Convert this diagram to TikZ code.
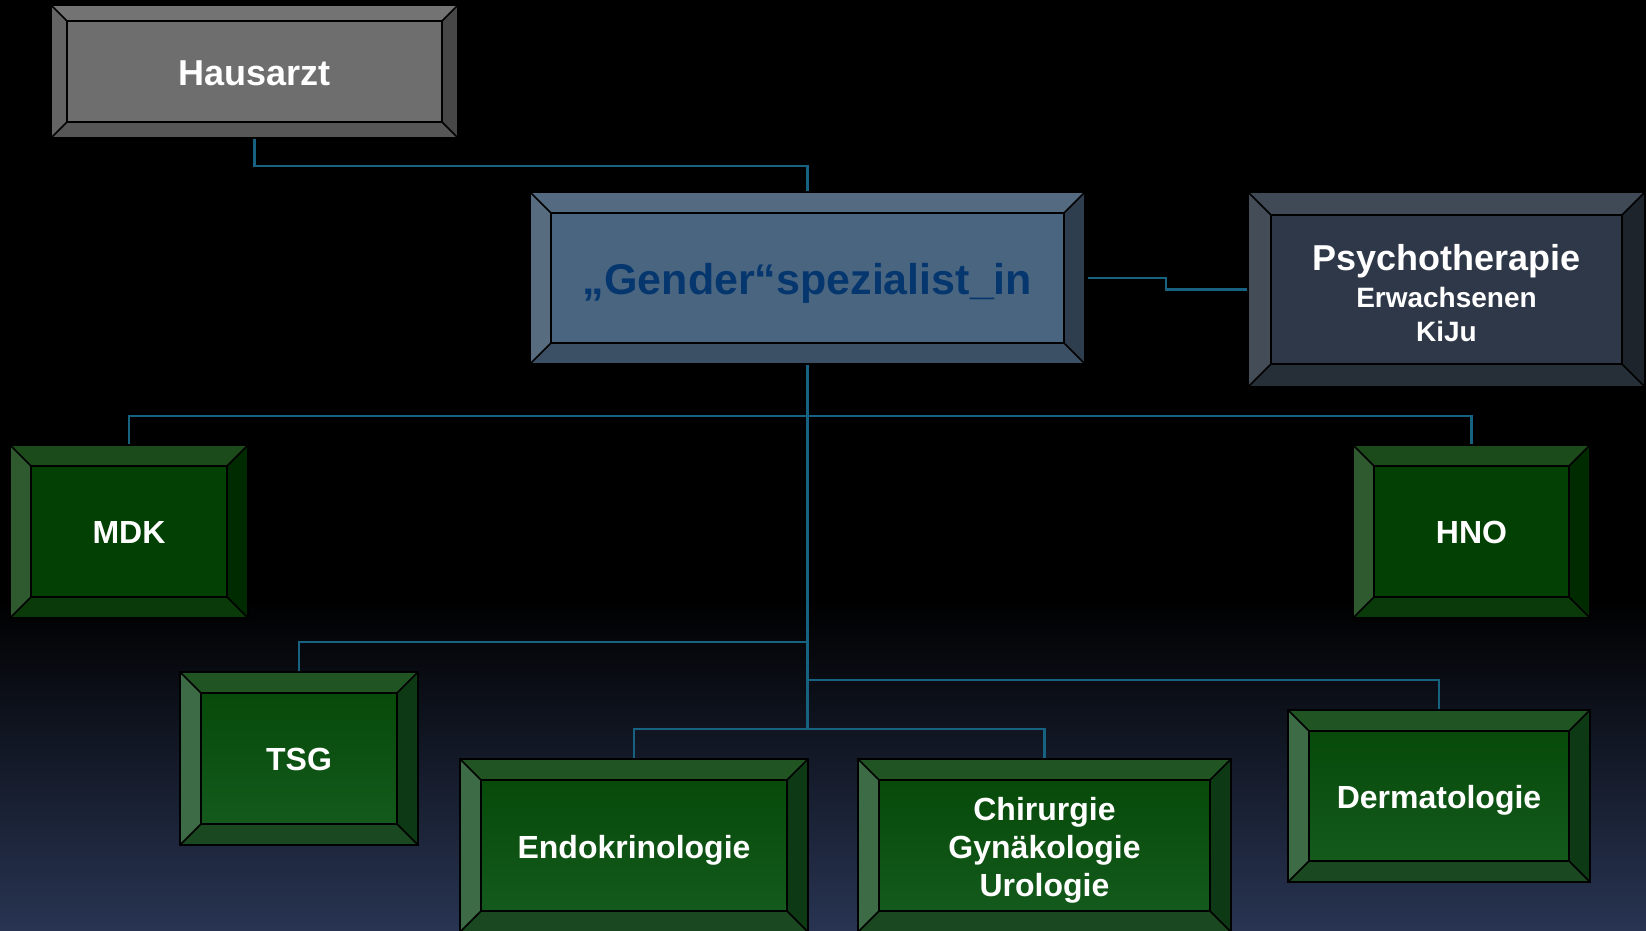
\documentclass[tikz,border=0pt]{standalone}
\usepackage{fontspec}
\setmainfont{Liberation Sans}
\usetikzlibrary{calc}
\definecolor{conncol}{RGB}{22,98,128}
\definecolor{bgbot}{RGB}{40,52,82}
% grey
\definecolor{hFace}{RGB}{110,110,110}\definecolor{hTop}{RGB}{115,115,115}
\definecolor{hLeft}{RGB}{100,100,100}\definecolor{hRight}{RGB}{71,71,71}\definecolor{hBot}{RGB}{87,87,87}
% gender
\definecolor{gFace}{RGB}{74,101,128}\definecolor{gTop}{RGB}{83,106,128}
\definecolor{gLeft}{RGB}{88,108,128}\definecolor{gRight}{RGB}{47,62,78}\definecolor{gBot}{RGB}{60,80,101}
\definecolor{gText}{RGB}{5,55,110}
% psych
\definecolor{pFace}{RGB}{46,56,72}\definecolor{pTop}{RGB}{63,74,86}
\definecolor{pLeft}{RGB}{67,76,87}\definecolor{pRight}{RGB}{30,36,44}\definecolor{pBot}{RGB}{38,46,56}
% green upper
\definecolor{aFace}{RGB}{3,64,3}\definecolor{aTop}{RGB}{27,74,27}
\definecolor{aLeft}{RGB}{47,90,47}\definecolor{aRight}{RGB}{0,42,0}\definecolor{aBot}{RGB}{10,58,10}
% green lower
\definecolor{bFaceT}{RGB}{7,74,10}\definecolor{bFaceB}{RGB}{19,90,28}\definecolor{bTop}{RGB}{32,85,35}
\definecolor{bLeft}{RGB}{60,107,69}\definecolor{bRight}{RGB}{13,58,21}\definecolor{bBot}{RGB}{26,72,32}
\newcommand\bevelpic[6]{%
  \coordinate (o1) at (path picture bounding box.north west);
  \coordinate (o2) at (path picture bounding box.north east);
  \coordinate (o3) at (path picture bounding box.south east);
  \coordinate (o4) at (path picture bounding box.south west);
  \coordinate (i1) at ($(o1)+(#1,#1)$);
  \coordinate (i2) at ($(o2)+(-#1,#1)$);
  \coordinate (i3) at ($(o3)+(-#1,-#1)$);
  \coordinate (i4) at ($(o4)+(#1,-#1)$);
  \fill[#3] (o1)--(o2)--(i2)--(i1)--cycle;
  \fill[#4] (o1)--(i1)--(i4)--(o4)--cycle;
  \fill[#5] (o2)--(o3)--(i3)--(i2)--cycle;
  \fill[#6] (o4)--(i4)--(i3)--(o3)--cycle;
  \fill[#2] (i1) rectangle (i3);
  \draw[black,line width=1.6pt] (i1) rectangle (i3) (o1)--(i1) (o2)--(i2) (o3)--(i3) (o4)--(i4);
}
\newcommand\dn[2]{\raisebox{-#1pt}[\height][\depth]{#2}}
\newcommand\dnt[2]{\raisebox{-#1pt}[\height][\depth]{\begin{tabular}{@{}c@{}}#2\end{tabular}}}
\tikzset{
  box/.style 2 args={rectangle,inner sep=0pt,minimum width=#1,minimum height=#2,align=center,draw=black,line width=1.6pt},
  haus/.style={path picture={\bevelpic{16}{fill=hFace}{hTop}{hLeft}{hRight}{hBot}},text=white,font=\bfseries\fontsize{36}{40}\selectfont},
  gend/.style={path picture={\bevelpic{21}{fill=gFace}{gTop}{gLeft}{gRight}{gBot}},text=gText,font=\bfseries\fontsize{43}{47}\selectfont},
  psy/.style={path picture={\bevelpic{23}{fill=pFace}{pTop}{pLeft}{pRight}{pBot}},text=white,font=\bfseries\fontsize{28}{34}\selectfont},
  grA/.style={path picture={\bevelpic{21}{fill=aFace}{aTop}{aLeft}{aRight}{aBot}},text=white,font=\bfseries\fontsize{32}{38}\selectfont},
  grB/.style={path picture={\bevelpic{21}{top color=bFaceT,bottom color=bFaceB}{bTop}{bLeft}{bRight}{bBot}},text=white,font=\bfseries\fontsize{32}{38}\selectfont},
  conn/.style={draw=conncol,line width=2.2pt}
}
\begin{document}
\begin{tikzpicture}[x=1pt,y=-1pt]
\useasboundingbox (0,0) rectangle (1646,931);
\fill[black] (0,0) rectangle (1646,600);
\shade[top color=black,bottom color=bgbot] (0,599) rectangle (1646,931);
\begin{scope}
\clip (0,0) rectangle (1646,931);
\coordinate (hub) at (807.5,730);
\coordinate (jt) at (807.5,642);
\coordinate (jd) at (807.5,680);
% nodes
\node[box={407pt}{133pt},haus] (haus) at (254.5,71.5) {\dn{2}{Hausarzt}};
\node[box={555pt}{172pt},gend] (gender) at (807.5,278) {\dn{5}{„Gender“spezialist\_in}};
\node[box={397pt}{195pt},psy] (psych) at (1446.5,289.5) {\dnt{9}{{\fontsize{36}{40}\selectfont Psychotherapie}\\[3pt]Erwachsenen\\KiJu}};
\node[box={238pt}{173pt},grA] (mdk) at (129,531.5) {\dn{1}{MDK}};
\node[box={237pt}{173pt},grA] (hno) at (1471.5,531.5) {\dn{1}{HNO}};
\node[box={238pt}{173pt},grB] (tsg) at (299,758.5) {\dn{1}{TSG}};
\node[box={348pt}{173pt},grB] (endo) at (634,845.5) {\dn{5}{Endokrinologie}};
\node[box={373pt}{173pt},grB] (chir) at (1044.5,845.5) {\dnt{5}{Chirurgie\\Gynäkologie\\Urologie}};
\node[box={302pt}{172pt},grB] (derm) at (1439,796) {\dn{4}{Dermatologie}};
% connectors
\draw[conn] (haus.south) -- ++(0,27) -| (gender.north);
\draw[conn] ([xshift=2pt]gender.east) -- (1166,278) |- (psych.west);
\draw[conn] (gender.south) -- (hub);
\draw[conn] (mdk.north) -- ++(0,-28) -| (hno.north);
\draw[conn] (tsg.north) |- (jt);
\draw[conn] (derm.north) |- (jd);
\draw[conn] (endo.north) -- ++(0,-29) -| (chir.north);
\end{scope}
\end{tikzpicture}
\end{document}
